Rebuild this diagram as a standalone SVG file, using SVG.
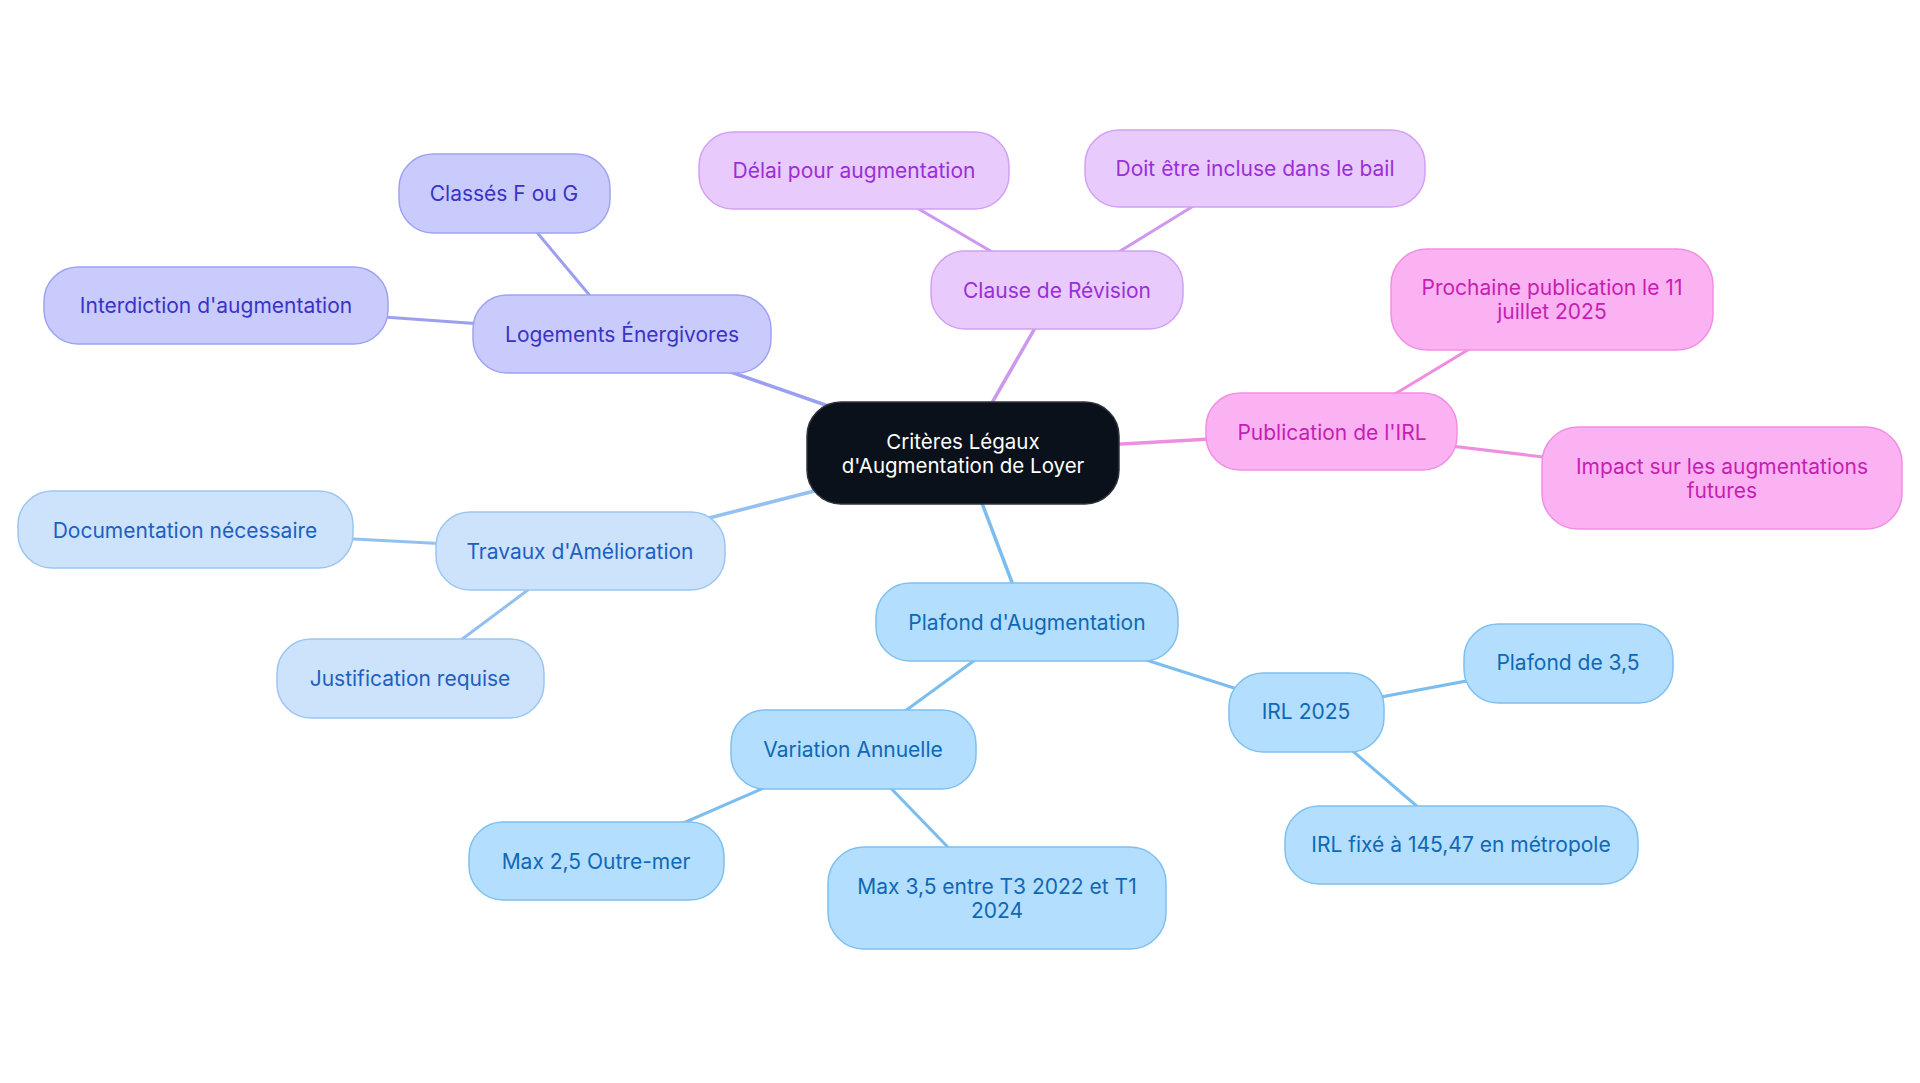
<svg xmlns="http://www.w3.org/2000/svg" width="1920" height="1083" viewBox="0 0 1920 1083">
<style>
text{font-family:Inter,"Noto Sans","Liberation Sans",sans-serif;font-size:21px;text-anchor:middle;dominant-baseline:central}
rect{stroke-width:1.5}
.c0 rect{fill:#0b111a;stroke:#2f353d}.c0 text{fill:#ffffff;font-size:20.5px}
.ind rect{fill:#c9cbfc;stroke:#9fa2f2}.ind text{fill:#3a33c4}
.pur rect{fill:#e8cafc;stroke:#d2a0f4}.pur text{fill:#9a2fd8}
.pnk rect{fill:#fbb2f2;stroke:#f18ee2}.pnk text{fill:#c51fb2}
.lbl rect{fill:#cde3fb;stroke:#9dc5f2}.lbl text{fill:#1d5fc2}
.sky rect{fill:#b4defd;stroke:#7fc0f0}.sky text{fill:#0f68b6}
#edges line{stroke-linecap:round}
</style>
<rect width="1920" height="1083" fill="#ffffff"/>
<g id="edges" fill="none">
<line x1="963" y1="453" x2="622" y2="334" stroke="#9c9ef0" stroke-width="3.5"/>
<line x1="622" y1="334" x2="504" y2="193" stroke="#9c9ef0" stroke-width="3"/>
<line x1="622" y1="334" x2="216" y2="305" stroke="#9c9ef0" stroke-width="3"/>
<line x1="963" y1="453" x2="1057" y2="290" stroke="#cd98f0" stroke-width="3.5"/>
<line x1="1057" y1="290" x2="854" y2="171" stroke="#cd98f0" stroke-width="3"/>
<line x1="1057" y1="290" x2="1255" y2="168" stroke="#cd98f0" stroke-width="3"/>
<line x1="963" y1="453" x2="1332" y2="432" stroke="#ef8ee0" stroke-width="3.5"/>
<line x1="1332" y1="432" x2="1552" y2="299" stroke="#ef8ee0" stroke-width="3"/>
<line x1="1332" y1="432" x2="1722" y2="478" stroke="#ef8ee0" stroke-width="3"/>
<line x1="963" y1="453" x2="580" y2="551" stroke="#93c0f0" stroke-width="3.5"/>
<line x1="580" y1="551" x2="185" y2="530" stroke="#93c0f0" stroke-width="3"/>
<line x1="580" y1="551" x2="410" y2="678" stroke="#93c0f0" stroke-width="3"/>
<line x1="963" y1="453" x2="1027" y2="622" stroke="#7bbdee" stroke-width="3.5"/>
<line x1="1027" y1="622" x2="853" y2="749" stroke="#7bbdee" stroke-width="3"/>
<line x1="853" y1="749" x2="596" y2="861" stroke="#7bbdee" stroke-width="3"/>
<line x1="853" y1="749" x2="997" y2="898" stroke="#7bbdee" stroke-width="3"/>
<line x1="1027" y1="622" x2="1306" y2="711" stroke="#7bbdee" stroke-width="3"/>
<line x1="1306" y1="711" x2="1568" y2="662" stroke="#7bbdee" stroke-width="3"/>
<line x1="1306" y1="711" x2="1461" y2="844" stroke="#7bbdee" stroke-width="3"/>
</g>
<g id="root" class="c0"><rect x="807" y="402" width="312" height="102" rx="34"/><text x="963" y="441">Critères Légaux</text><text x="963" y="465">d'Augmentation de Loyer</text></g>
<g id="logements" class="ind"><rect x="473" y="295" width="298" height="78" rx="34"/><text x="622" y="334">Logements Énergivores</text></g>
<g id="classes" class="ind"><rect x="399" y="154" width="211" height="79" rx="34"/><text x="504" y="193">Classés F ou G</text></g>
<g id="interdiction" class="ind"><rect x="44" y="267" width="344" height="77" rx="34"/><text x="216" y="305">Interdiction d'augmentation</text></g>
<g id="clause" class="pur"><rect x="931" y="251" width="252" height="78" rx="34"/><text x="1057" y="290">Clause de Révision</text></g>
<g id="delai" class="pur"><rect x="699" y="132" width="310" height="77" rx="34"/><text x="854" y="170">Délai pour augmentation</text></g>
<g id="doit" class="pur"><rect x="1085" y="130" width="340" height="77" rx="34"/><text x="1255" y="168">Doit être incluse dans le bail</text></g>
<g id="publication" class="pnk"><rect x="1206" y="393" width="251" height="77" rx="34"/><text x="1332" y="432">Publication de l'IRL</text></g>
<g id="prochaine" class="pnk"><rect x="1391" y="249" width="322" height="101" rx="36"/><text x="1552" y="287">Prochaine publication le 11</text><text x="1552" y="311">juillet 2025</text></g>
<g id="impact" class="pnk"><rect x="1542" y="427" width="360" height="102" rx="36"/><text x="1722" y="466">Impact sur les augmentations</text><text x="1722" y="490">futures</text></g>
<g id="travaux" class="lbl"><rect x="436" y="512" width="289" height="78" rx="34"/><text x="580" y="551">Travaux d'Amélioration</text></g>
<g id="documentation" class="lbl"><rect x="18" y="491" width="335" height="77" rx="34"/><text x="185" y="530">Documentation nécessaire</text></g>
<g id="justification" class="lbl"><rect x="277" y="639" width="267" height="79" rx="34"/><text x="410" y="678">Justification requise</text></g>
<g id="plafond" class="sky"><rect x="876" y="583" width="302" height="78" rx="34"/><text x="1027" y="622">Plafond d'Augmentation</text></g>
<g id="variation" class="sky"><rect x="731" y="710" width="245" height="79" rx="34"/><text x="853" y="749">Variation Annuelle</text></g>
<g id="max25" class="sky"><rect x="469" y="822" width="255" height="78" rx="34"/><text x="596" y="861">Max 2,5 Outre-mer</text></g>
<g id="max35" class="sky"><rect x="828" y="847" width="338" height="102" rx="36"/><text x="997" y="886">Max 3,5 entre T3 2022 et T1</text><text x="997" y="910">2024</text></g>
<g id="irl2025" class="sky"><rect x="1229" y="673" width="155" height="79" rx="34"/><text x="1306" y="711">IRL 2025</text></g>
<g id="plafond35" class="sky"><rect x="1464" y="624" width="209" height="79" rx="34"/><text x="1568" y="662">Plafond de 3,5</text></g>
<g id="irlfixe" class="sky"><rect x="1285" y="806" width="353" height="78" rx="34"/><text x="1461" y="844">IRL fixé à 145,47 en métropole</text></g>
</svg>
